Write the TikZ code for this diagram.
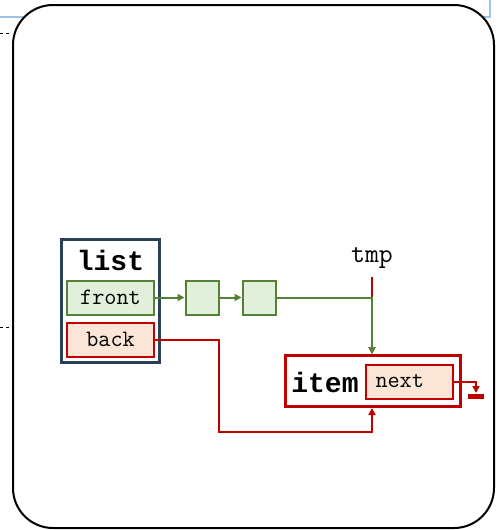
\documentclass[tikz,border=0pt]{standalone}
\usepackage{fontspec}
\newfontfamily\boldmono{Liberation Mono}
\usetikzlibrary{arrows.meta}
\definecolor{gline}{HTML}{548235}
\definecolor{gfill}{HTML}{E2EFDA}
\definecolor{rline}{HTML}{C00000}
\definecolor{rfill}{HTML}{FBE5D6}
\definecolor{navy}{HTML}{2B4058}
\definecolor{lblue}{HTML}{9DC3E6}
\tikzset{
  field/.style={rectangle, inner sep=0pt, line width=2pt, minimum width=87pt, minimum height=34pt, font=\ttfamily\fontsize{23.5}{23.5}\selectfont},
  gfield/.style={field, draw=gline, fill=gfill},
  rfield/.style={field, draw=rline, fill=rfill},
  cell/.style={rectangle, inner sep=0pt, line width=2pt, draw=gline, fill=gfill, minimum width=33pt, minimum height=34pt},
  title/.style={font=\boldmono\bfseries\fontsize{28}{28}\selectfont, inner sep=0pt},
  garrow/.style={draw=gline, line width=2pt, -{Triangle[length=7pt,width=7pt]}},
  rarrow/.style={draw=rline, line width=2pt, -{Triangle[length=7pt,width=7pt]}},
}
\begin{document}
\begin{tikzpicture}[x=1pt,y=-1pt]
\useasboundingbox (0,0) rectangle (497,530);
% background context
\draw[lblue, line width=1.2pt] (0,17) -- (490,17) -- (490,0);
\draw[dashed, line width=0.6pt] (0,33) -- (12,33);
\draw[dashed, line width=0.6pt] (0,327) -- (12,327);
\draw[line width=2pt, fill=white, rounded corners=40pt] (13,5) rectangle (494,528);
% list
\node[draw=navy, line width=3pt, rectangle, minimum width=98pt, minimum height=123pt, inner sep=0pt] (list) at (110.5,301) {};
\node[title] (listlbl) at (110.5,260) {list};
\node[gfield] (front) at (110.5,297.5) {front};
\node[rfield] (back) at (110.5,339.5) {back};
% cells
\node[cell] (c1) at (202,297.5) {};
\node[cell] (c2) at (259,297.5) {};
% item
\node[draw=rline, line width=3pt, rectangle, minimum width=175pt, minimum height=51pt, inner sep=0pt] (item) at (373,381) {};
\node[title] (itemlbl) at (325,382) {item};
\node[rfield, inner xsep=10pt, text width=67pt, align=left] (next) at (409,381.5) {next};
% tmp
\node[font=\ttfamily\fontsize{27}{27}\selectfont, inner sep=0pt] (tmp) at (372,258) {tmp};
\coordinate (tmpbot) at (372,277);
\coordinate (join) at (372,297.5);
% connectors
\draw[rarrow] (tmpbot) -- (item.north -| tmpbot);
\draw[garrow] (front.east) -- (c1.west);
\draw[garrow] (c1.east) -- (c2.west);
\draw[garrow] (c2.east) -- (join) -- (item.north -| join);
\draw[rarrow] (back.east) -- (219,339.5) -- (219,432) -- (372,432) -- (item.south -| tmpbot);
\coordinate (gnd) at (476,393);
\draw[rarrow] (next.east) -- (476,381.5) -- (gnd);
\fill[rline] (468,394) rectangle (484,399);
\end{tikzpicture}
\end{document}
